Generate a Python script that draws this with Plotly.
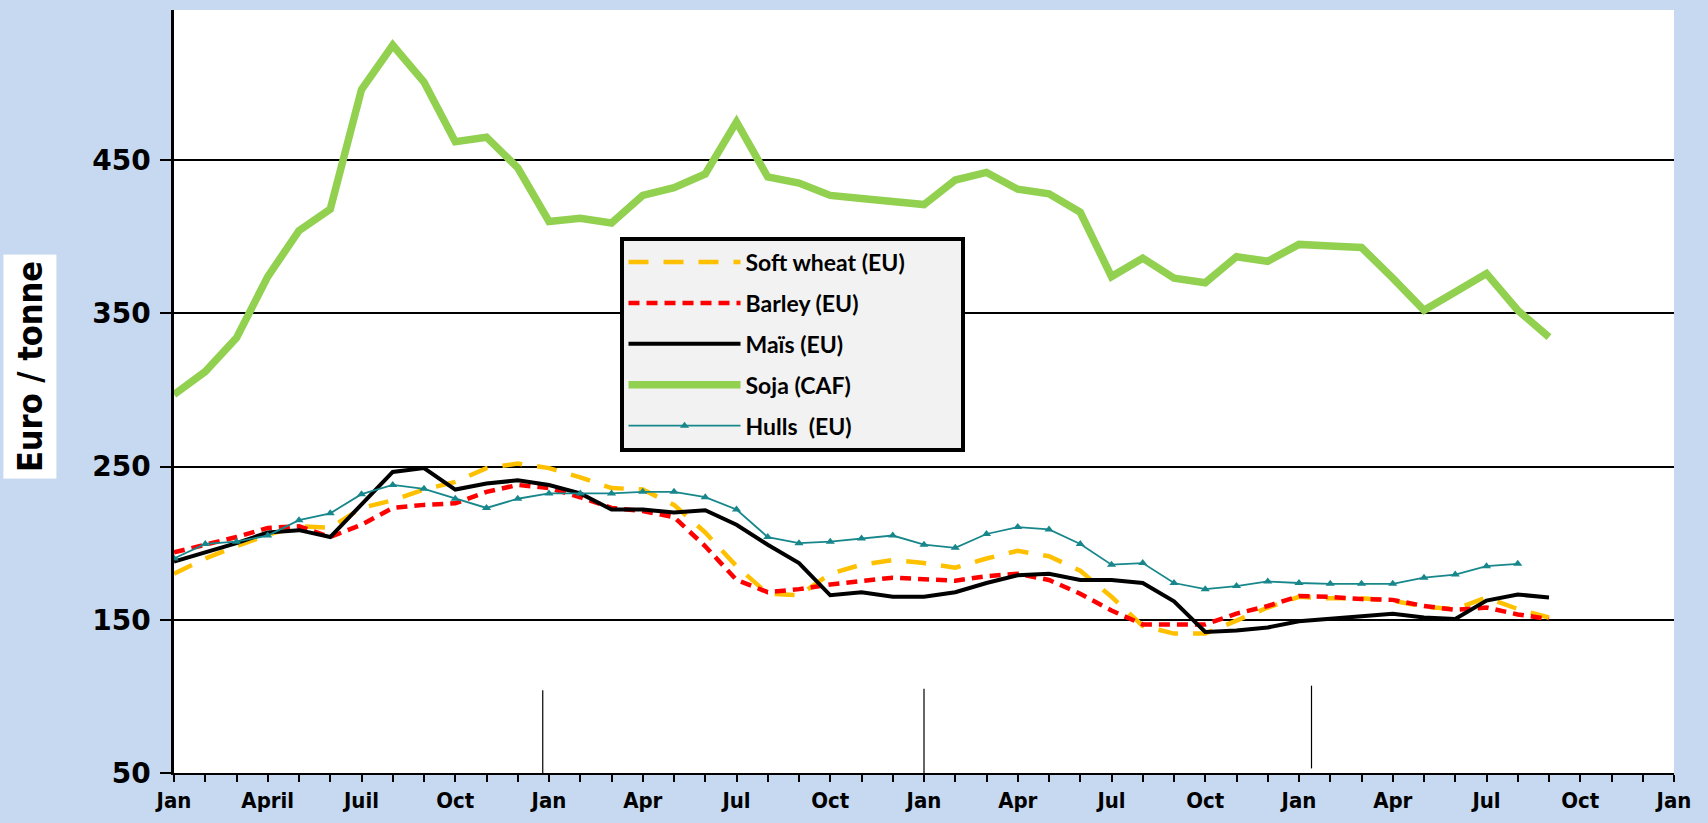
import plotly.graph_objects as go

# Monthly index: 0 = Jan of first year ... 48 = Jan four years later
tick_pos = list(range(0, 49, 3))
tick_labels = ['Jan', 'April', 'Juil', 'Oct',
               'Jan', 'Apr', 'Jul', 'Oct',
               'Jan', 'Apr', 'Jul', 'Oct',
               'Jan', 'Apr', 'Jul', 'Oct',
               'Jan']

soft_wheat = [180, 190, 198, 205.5, 211, 210, 223, 228, 235, 240, 249, 252, 249, 243, 236, 235,
              225, 207, 185, 167, 166, 180, 186, 189, 187, 184, 190, 195, 191.5, 182, 165, 146,
              141, 141, 149.5, 158, 165, 164, 164, 162.5, 158.5, 157, 164.5, 157, 151.5]

barley = [194, 199, 204, 210, 211, 204, 212, 223, 225, 226, 233.5, 238, 236, 230, 223, 221,
          217, 198, 176, 168, 170, 173, 175, 177.5, 176.5, 175.5, 178.5, 180, 176, 167, 156, 147,
          147, 147, 154, 159, 165.5, 165, 163.5, 163, 159, 156.5, 158, 153.5, 150.5]

mais = [188, 194, 200, 207, 208.5, 204, 225, 246.5, 249, 235, 239, 241, 238, 232.5, 222, 222,
        220, 221.5, 212, 199, 187, 166, 168, 165, 165, 168, 174, 179, 180, 176, 176, 174, 162,
        142, 143, 145, 149, 150.5, 152, 154, 151.5, 150.5, 162.5, 166.5, 164.5]

soja = [297, 312, 334, 374, 404, 418, 496, 525, 501, 462, 465, 445, 410, 412, 409, 427,
        432, 441, 475, 439, 435, 427, 425, 423, 421, 437, 442, 431, 428, 416, 374, 386, 373,
        370, 387, 384, 395, 394, 393, 373, 352, 364, 376, 352, 334.5]

hulls = [190, 199.5, 201, 205, 215, 219.5, 232, 238, 235.5, 229, 223, 229, 232.5, 232.5, 232.5,
         233.5, 233.5, 230, 222, 204, 200, 201, 203, 205, 199, 197, 206, 210.5, 209, 199.5, 186,
         187, 174, 170, 172, 175, 174, 173.5, 173.5, 173.5, 177.5, 179.5, 185, 186.5]

# short vertical year markers near the bottom axis
year_marks = [11.8, 24.0, 36.4]
year_mark_low = [50, 50, 53]
year_mark_high = [104, 105, 107]

narrow = 'Liberation Sans Narrow, DejaVu Sans Condensed, Roboto, sans-serif'
pad = '&nbsp;' * 9  # extra room on the right side of the legend box

fig = go.Figure()

fig.add_trace(go.Scatter(x=list(range(len(soft_wheat))), y=soft_wheat, mode='lines',
                         name='Soft wheat (EU)' + pad, legendgroup='a',
                         line=dict(color='#FFC000', width=4.5, dash='20px,15px')))
fig.add_trace(go.Scatter(x=list(range(len(barley))), y=barley, mode='lines',
                         name='Barley (EU)', legendgroup='b',
                         line=dict(color='#FF0000', width=4.5, dash='11px,7px')))
fig.add_trace(go.Scatter(x=list(range(len(mais))), y=mais, mode='lines',
                         name='Maïs (EU)', legendgroup='c',
                         line=dict(color='black', width=4)))
fig.add_trace(go.Scatter(x=list(range(len(soja))), y=soja, mode='lines',
                         name='Soja (CAF)', legendgroup='d',
                         line=dict(color='#92D050', width=7.5)))
fig.add_trace(go.Scatter(x=list(range(len(hulls))), y=hulls, mode='lines+markers',
                         name='Hulls  (EU)', legendgroup='e',
                         line=dict(color='#17878B', width=1.8),
                         marker=dict(symbol='triangle-up', size=8, color='#17878B')))

shapes = []
for xm, lo, hi in zip(year_marks, year_mark_low, year_mark_high):
    shapes.append(dict(type='line', xref='x', yref='y', x0=xm, x1=xm, y0=lo, y1=hi,
                       line=dict(color='black', width=1.2)))

fig.update_layout(
    width=1708, height=823,
    margin=dict(l=174, r=34, t=10, b=43),
    paper_bgcolor='#C6D9F0',
    plot_bgcolor='white',
    shapes=shapes,
    xaxis=dict(range=[0, 48], tickvals=tick_pos, ticktext=tick_labels,
               showgrid=False, zeroline=False,
               showline=True, linecolor='black', linewidth=2,
               ticks='outside', ticklen=7, tickwidth=1.5, tickcolor='black',
               tickfont=dict(family=narrow, size=22, color='black', weight='bold'),
               minor=dict(dtick=1, ticks='outside', ticklen=7, tickwidth=1.5, tickcolor='black')),
    xaxis2=dict(range=[0, 48], overlaying='x', anchor='y', side='bottom',
                showgrid=False, zeroline=False, showline=False, showticklabels=False,
                tickmode='linear', tick0=0, dtick=1,
                ticks='inside', ticklen=7, tickwidth=1.5, tickcolor='black'),
    yaxis=dict(range=[50, 548], tickvals=[50, 150, 250, 350, 450],
               showgrid=True, gridcolor='black', gridwidth=1.5, zeroline=False,
               showline=True, linecolor='black', linewidth=2.5,
               ticks='outside', ticklen=11, tickwidth=1.5, tickcolor='black',
               ticklabelstandoff=4,
               tickfont=dict(family='DejaVu Sans', size=28, color='black', weight='bold')),
    legend=dict(x=0.297, y=0.703, xanchor='left', yanchor='top',
                bgcolor='#F2F2F2', bordercolor='black', borderwidth=4,
                tracegroupgap=8, itemwidth=112,
                font=dict(family='Lato', size=23, color='black', weight='bold')),
    annotations=[dict(text='Euro / tonne', xref='paper', yref='paper',
                      x=-0.096, y=0.532, xanchor='center', yanchor='middle',
                      textangle=-90, showarrow=False, bgcolor='white', borderpad=6,
                      font=dict(family=narrow, size=34, color='black', weight='bold'))],
)

fig.write_html('out.html', config={'displayModeBar': False},
               post_script="document.body.style.margin='0';")
